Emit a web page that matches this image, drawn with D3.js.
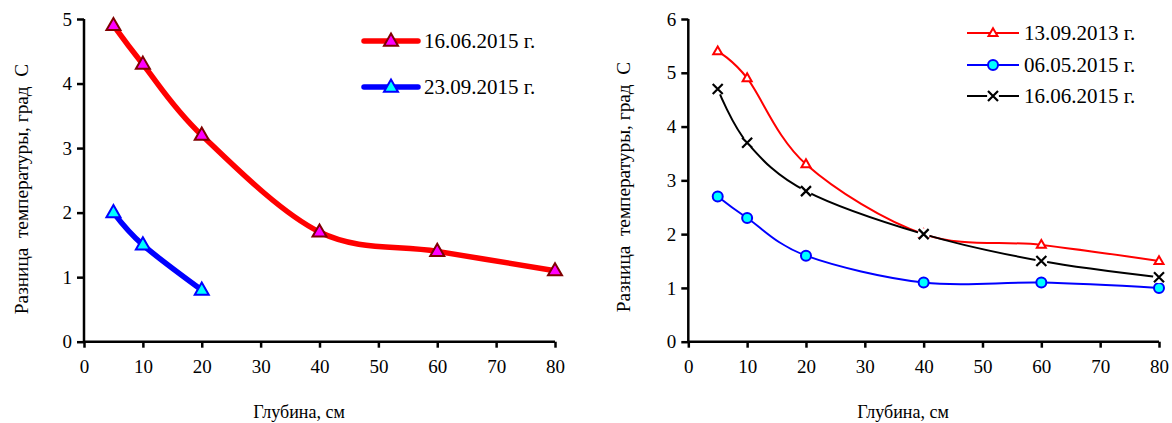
<!DOCTYPE html>
<html>
<head>
<meta charset="utf-8">
<script src="https://cdn.jsdelivr.net/npm/d3@7"></script>
<style>
  html, body { margin: 0; padding: 0; background: #fff; }
  svg { display: block; }
  svg text { font-family: "Liberation Serif", "Times New Roman", serif; }
</style>
</head>
<body>
<svg id="chart" width="1172" height="423"></svg>
<script>
// Depths, cm
const depthsLeft = [5, 10, 20, 40, 60, 80];
const depthsBlueLeft = [5, 10, 20];
const depthsRight = [5, 10, 20, 40, 60, 80];

// Temperature differences, deg C
const left_16_06_2015 = [4.9, 4.3, 3.2, 1.7, 1.4, 1.1];
const left_23_09_2015 = [2.0, 1.5, 0.8];

const right_13_09_2013 = [5.4, 4.9, 3.3, 2.0, 1.8, 1.5];
const right_06_05_2015 = [2.7, 2.3, 1.6, 1.1, 1.1, 1.0];
const right_16_06_2015 = [4.7, 3.7, 2.8, 2.0, 1.5, 1.2];

const xTicks = [0, 10, 20, 30, 40, 50, 60, 70, 80];
const yTicksLeft = [0, 1, 2, 3, 4, 5];
const yTicksRight = [0, 1, 2, 3, 4, 5, 6];

const yTitle = "Разница  температуры, град  С";
const xTitle = "Глубина, см";

const svg = d3.select("#chart");
const curve = d3.curveCardinal.tension(0);
const fmt = d3.format("d");

function triangle(size) {
  const h = size * 0.87;
  return `M0,${-h * 0.62}L${size / 2},${h * 0.38}L${-size / 2},${h * 0.38}Z`;
}

function drawAxes(g, x, y, yTicks, titleX, titleY, xTitleX) {
  const xAxis = d3.axisBottom(x).tickValues(xTicks).tickFormat(fmt).tickSize(6).tickPadding(12);
  const yAxis = d3.axisLeft(y).tickValues(yTicks).tickFormat(fmt).tickSize(7).tickPadding(5);
  const gx = g.append("g").attr("transform", `translate(0,${y(0)})`).call(xAxis);
  const gy = g.append("g").attr("transform", `translate(${x(0)},0)`).call(yAxis);
  [gx, gy].forEach(a => {
    a.attr("font-family", null);
    a.select(".domain").attr("stroke", "#000").attr("stroke-width", 2.5);
    a.selectAll(".tick line").attr("stroke", "#000").attr("stroke-width", 2.5);
    a.selectAll(".tick text").attr("fill", "#000").attr("font-size", 19);
  });
  gx.select(".domain").attr("d", `M${x(0)},0H${x(80)}`);
  gy.select(".domain").attr("d", `M0,${y(0)}V${y(yTicks[yTicks.length - 1])}`);

  g.append("text")
    .attr("transform", `translate(${titleX},${titleY}) rotate(-90)`)
    .attr("text-anchor", "middle")
    .attr("font-size", 19.3)
    .style("white-space", "pre")
    .text(yTitle);
  g.append("text")
    .attr("x", xTitleX).attr("y", 418)
    .attr("text-anchor", "middle")
    .attr("font-size", 18)
    .text(xTitle);
}

// ---------- Left panel ----------
{
  const x = d3.scaleLinear().domain([0, 80]).range([84, 555]);
  const y = d3.scaleLinear().domain([0, 5]).range([341.7, 19]);
  const g = svg.append("g");
  drawAxes(g, x, y, yTicksLeft, 28, 189, 299);

  const series = [
    { name: "16.06.2015 г.", xs: depthsLeft, ys: left_16_06_2015, line: "#ff0000", fill: "#ff00ff", stroke: "#800000", ly: 41 },
    { name: "23.09.2015 г.", xs: depthsBlueLeft, ys: left_23_09_2015, line: "#0000ff", fill: "#00ffff", stroke: "#0000ff", ly: 87 }
  ];
  const line = d3.line().x(d => x(d[0])).y(d => y(d[1])).curve(curve);
  series.forEach(s => {
    const pts = s.xs.map((v, i) => [v, s.ys[i]]);
    g.append("path").attr("d", line(pts)).attr("fill", "none")
      .attr("stroke", s.line).attr("stroke-width", 5.5).attr("stroke-linejoin", "round");
    g.selectAll(null).data(pts).join("path")
      .attr("transform", d => `translate(${x(d[0])},${y(d[1])})`)
      .attr("d", triangle(14))
      .attr("fill", s.fill).attr("stroke", s.stroke).attr("stroke-width", 2);
    // legend
    g.append("line").attr("x1", 364).attr("x2", 418).attr("y1", s.ly).attr("y2", s.ly)
      .attr("stroke", s.line).attr("stroke-width", 5.5).attr("stroke-linecap", "round");
    g.append("path").attr("transform", `translate(391,${s.ly})`).attr("d", triangle(14))
      .attr("fill", s.fill).attr("stroke", s.stroke).attr("stroke-width", 2);
    g.append("text").attr("x", 424).attr("y", s.ly + 7).attr("font-size", 21).text(s.name);
  });
}

// ---------- Right panel ----------
{
  const x = d3.scaleLinear().domain([0, 80]).range([688.3, 1159]);
  const y = d3.scaleLinear().domain([0, 6]).range([341.7, 19]);
  const g = svg.append("g");
  drawAxes(g, x, y, yTicksRight, 630, 187, 903);

  const line = d3.line().x(d => x(d[0])).y(d => y(d[1])).curve(curve);
  const series = [
    { name: "13.09.2013 г.", ys: right_13_09_2013, color: "#ff0000", marker: "tri", ly: 33 },
    { name: "06.05.2015 г.", ys: right_06_05_2015, color: "#0000ff", marker: "circle", ly: 65 },
    { name: "16.06.2015 г.", ys: right_16_06_2015, color: "#000000", marker: "cross", ly: 96 }
  ];

  function marker(sel, s) {
    if (s.marker === "tri") {
      sel.append("path").attr("d", triangle(9))
        .attr("fill", "#fff").attr("stroke", s.color).attr("stroke-width", 2);
    } else if (s.marker === "circle") {
      sel.append("circle").attr("r", 5)
        .attr("fill", "#00ffff").attr("stroke", "#0000ff").attr("stroke-width", 2);
    } else {
      sel.append("circle").attr("r", 6).attr("fill", "#fff");
      sel.append("path").attr("d", "M-5,-5L5,5M-5,5L5,-5")
        .attr("stroke", "#000").attr("stroke-width", 2.2).attr("fill", "none");
    }
  }

  series.forEach(s => {
    const pts = depthsRight.map((v, i) => [v, s.ys[i]]);
    g.append("path").attr("d", line(pts)).attr("fill", "none")
      .attr("stroke", s.color).attr("stroke-width", 2);
  });
  series.forEach(s => {
    const pts = depthsRight.map((v, i) => [v, s.ys[i]]);
    pts.forEach(p => {
      const m = g.append("g").attr("transform", `translate(${x(p[0])},${y(p[1])})`);
      marker(m, s);
    });
    g.append("line").attr("x1", 967).attr("x2", 1019).attr("y1", s.ly).attr("y2", s.ly)
      .attr("stroke", s.color).attr("stroke-width", 2);
    const m = g.append("g").attr("transform", `translate(993,${s.ly})`);
    marker(m, s);
    g.append("text").attr("x", 1024).attr("y", s.ly + 7).attr("font-size", 21).text(s.name);
  });
}
</script>
</body>
</html>
